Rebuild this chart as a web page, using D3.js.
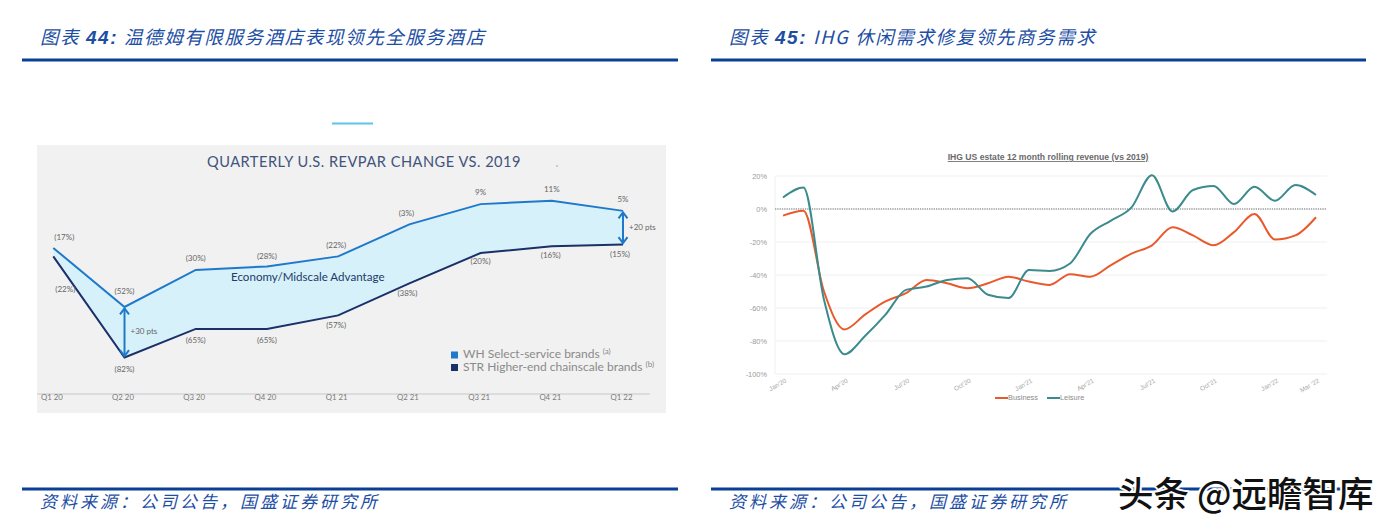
<!DOCTYPE html>
<html><head><meta charset="utf-8">
<script src="https://cdn.jsdelivr.net/npm/d3@7"></script>
<style>
html,body{margin:0;padding:0;background:#fff;}
svg{display:block;}
</style></head>
<body>
<svg id="c" width="1388" height="531"></svg>
<script>
// ---------- Data: left chart ----------
const quarters = ["Q1 20","Q2 20","Q3 20","Q4 20","Q1 21","Q2 21","Q3 21","Q4 21","Q1 22"];
const whValues = [-17,-52,-30,-28,-22,-3,9,11,5];
const strValues = [-22,-82,-65,-65,-57,-38,-20,-16,-15];
const seriesNamesLeft = ["WH Select-service brands","STR Higher-end chainscale brands"];
const seriesNotesLeft = ["(a)","(b)"];
const gapNotes = [{q:"Q2 20", text:"+30 pts"},{q:"Q1 22", text:"+20 pts"}];

// ---------- Data: right chart ----------
const months = ["Jan'20","Feb'20","Mar'20","Apr'20","May'20","Jun'20","Jul'20","Aug'20","Sep'20","Oct'20","Nov'20","Dec'20",
  "Jan'21","Feb'21","Mar'21","Apr'21","May'21","Jun'21","Jul'21","Aug'21","Sep'21","Oct'21","Nov'21","Dec'21",
  "Jan'22","Feb'22","Mar'22"];
const business = [-4,-1,-50,-73,-64,-56,-51,-43,-45,-48,-45,-41,-44,-46,-39.5,-41,-34,-27,-22,-11,-16,-22,-14,-3,-18.5,-16,-5];
const leisure  = [7,13,-55,-88,-77,-64,-49,-47,-43,-42,-52,-54,-37,-37.5,-33,-15,-7,1,20.5,-1.5,11.5,14,3,13.5,5,14.5,8.5];
const yTicksRight = [20,0,-20,-40,-60,-80,-100];
const xTickMonths = [0,3,6,9,12,15,18,21,24,26];
const xTickLabels = ["Jan'20","Apr'20","Jul'20","Oct'20","Jan'21","Apr'21","Jul'21","Oct'21","Jan'22","Mar '22"];
const seriesNamesRight = ["Business","Leisure"];

// ---------- Texts ----------
const titleLeft = ["图表 ","44:"," 温德姆有限服务酒店表现领先全服务酒店"];
const titleRight = ["图表 ","45:"," IHG 休闲需求修复领先商务需求"];
const sourceText = "资料来源：公司公告，国盛证券研究所";
const watermark = "头条 @远瞻智库";

const svg = d3.select("#c");
const cjk = "'Noto Sans CJK SC','Noto Sans',sans-serif";
const blue = "#1c4ea3";
const rule = "#0b3f96";

// ---------- Frame: titles, rules, sources ----------
function frame(x0, x1, title) {
  const t = svg.append("text").attr("x", x0 + 18).attr("y", 44)
    .attr("font-family", cjk).attr("font-size", 18.5).attr("font-style", "italic")
    .attr("fill", blue).attr("letter-spacing", 1.6);
  t.append("tspan").text(title[0]);
  t.append("tspan").attr("font-family","'Liberation Sans',Arial,sans-serif").attr("font-weight","bold").attr("font-size",19).text(title[1]);
  t.append("tspan").text(title[2]);
  svg.append("rect").attr("x", x0).attr("y", 58.5).attr("width", x1 - x0).attr("height", 3).attr("fill", rule);
  svg.append("rect").attr("x", x0).attr("y", 487.5).attr("width", x1 - x0).attr("height", 3).attr("fill", rule);
  svg.append("text").attr("x", x0 + 18).attr("y", 508)
    .attr("font-family", cjk).attr("font-size", 17).attr("font-style", "italic")
    .attr("letter-spacing", 3.0).attr("fill", blue).text(sourceText);
}
frame(22, 678, titleLeft);
frame(711, 1366, titleRight);

// ---------- Left chart ----------
const L = svg.append("g");
const lf = "Lato,'Open Sans',sans-serif";
L.append("rect").attr("x", 332).attr("y", 122.5).attr("width", 41).attr("height", 2).attr("fill", "#5cc3ea");
L.append("rect").attr("x", 37).attr("y", 145).attr("width", 629).attr("height", 268).attr("fill", "#f1f1f1");
L.append("text").attr("x", 364).attr("y", 167).attr("text-anchor", "middle")
  .attr("font-family", lf).attr("font-size", 14.6).attr("letter-spacing", 0.5)
  .attr("fill", "#42547c").text("QUARTERLY U.S. REVPAR CHANGE VS. 2019");
L.append("circle").attr("cx", 557).attr("cy", 166).attr("r", 0.8).attr("fill", "#999");

const xL = d3.scalePoint().domain(quarters).range([53.3, 623]);
const yL = d3.scaleLinear().domain([0, -100]).range([219.3, 387.9]);

// x axis
L.append("rect").attr("x", 37).attr("y", 393).attr("width", 613).attr("height", 2).attr("fill", "#dcdcdc");
const axL = L.append("g").attr("transform", "translate(0,394)")
  .call(d3.axisBottom(xL).tickSize(0).tickPadding(4));
axL.select(".domain").remove();
axL.selectAll("text").attr("font-family", lf).attr("font-size", 7.8).attr("fill", "#7a7a7a")
  .attr("dx", -2).attr("dy", "0.25em");

// band between series
const band = quarters.map((q, i) => ({q, hi: whValues[i], lo: strValues[i]}));
L.append("path").datum(band)
  .attr("d", d3.area().x(d => xL(d.q)).y0(d => yL(d.lo)).y1(d => yL(d.hi)))
  .attr("fill", "#d6f1fa");
const lineL = d3.line().x(d => xL(d.q)).y(d => yL(d.v));
L.append("path").datum(quarters.map((q, i) => ({q, v: strValues[i]})))
  .attr("d", lineL).attr("fill", "none").attr("stroke", "#1b2f68").attr("stroke-width", 2);
L.append("path").datum(quarters.map((q, i) => ({q, v: whValues[i]})))
  .attr("d", lineL).attr("fill", "none").attr("stroke", "#1f79cb").attr("stroke-width", 2);

const pct = v => v < 0 ? `(${Math.abs(v)}%)` : `${v}%`;
// labels
const whOff = [[11,-10],[0,-15],[0,-11],[0,-10],[-2,-10],[-3,-10],[0,-11],[0,-11],[0,-11]];
const strOff = [[12,34],[0,12],[0,12],[0,12],[-2,11],[-2,11],[0,9],[-1,10],[-3,10]];
quarters.forEach((q, i) => {
  L.append("text").attr("x", xL(q) + whOff[i][0]).attr("y", yL(whValues[i]) + whOff[i][1])
    .attr("text-anchor", "middle").attr("dominant-baseline", "middle")
    .attr("font-family", lf).attr("font-size", 8).attr("fill", "#666").text(pct(whValues[i]));
  L.append("text").attr("x", xL(q) + strOff[i][0]).attr("y", yL(strValues[i]) + strOff[i][1])
    .attr("text-anchor", "middle").attr("dominant-baseline", "middle")
    .attr("font-family", lf).attr("font-size", 8).attr("fill", "#666").text(pct(strValues[i]));
});

// gap arrows
gapNotes.forEach(g => {
  const i = quarters.indexOf(g.q);
  const x = xL(g.q), y1 = yL(whValues[i]) + 1.5, y2 = yL(strValues[i]) - 1.5;
  const c = "#1f79cb";
  L.append("line").attr("x1", x).attr("x2", x).attr("y1", y1).attr("y2", y2)
    .attr("stroke", c).attr("stroke-width", 2);
  L.append("path").attr("d", `M${x-4.5},${y1+6}L${x},${y1}L${x+4.5},${y1+6}`)
    .attr("fill", "none").attr("stroke", c).attr("stroke-width", 2);
  L.append("path").attr("d", `M${x-4.5},${y2-6}L${x},${y2}L${x+4.5},${y2-6}`)
    .attr("fill", "none").attr("stroke", c).attr("stroke-width", 2);
  L.append("text").attr("x", x + 6).attr("y", (y1 + y2) / 2).attr("dominant-baseline", "middle")
    .attr("font-family", lf).attr("font-size", 8).attr("fill", "#666").text(g.text);
});

L.append("text").attr("x", 231).attr("y", 281)
  .attr("font-family", lf).attr("font-size", 11.6).attr("fill", "#223a68")
  .text("Economy/Midscale Advantage");

// legend
const legCols = ["#1f79cb", "#1b2f68"];
seriesNamesLeft.forEach((n, i) => {
  const y = 355 + i * 12.5;
  L.append("rect").attr("x", 451).attr("y", y - 3.5).attr("width", 7).attr("height", 7).attr("fill", legCols[i]);
  const t = L.append("text").attr("x", 463).attr("y", y).attr("dominant-baseline", "middle")
    .attr("font-family", lf).attr("font-size", 12).attr("fill", "#8a8a8a");
  t.append("tspan").text(n + " ");
  t.append("tspan").attr("font-size", 8).attr("dy", -3).text(seriesNotesLeft[i]);
});

// ---------- Right chart ----------
const R = svg.append("g");
const af = "'Liberation Sans',Arial,sans-serif";
const xR = d3.scaleLinear().domain([0, months.length - 1]).range([783, 1316]);
const yR = d3.scaleLinear().domain([-100, 20]).range([374, 176]);

R.append("text").attr("x", 1048).attr("y", 160).attr("text-anchor", "middle")
  .attr("font-family", af).attr("font-weight", "bold").attr("font-size", 8.6)
  .attr("fill", "#6a6a6a").attr("text-decoration", "underline")
  .text("IHG US estate 12 month rolling revenue (vs 2019)");

// grid
yTicksRight.forEach(v => {
  if (v === 0) return;
  R.append("line").attr("x1", 775).attr("x2", 1327).attr("y1", yR(v)).attr("y2", yR(v))
    .attr("stroke", "#efefef").attr("stroke-width", 1.2);
});
R.append("line").attr("x1", 775).attr("x2", 775).attr("y1", yR(20)).attr("y2", yR(-100))
  .attr("stroke", "#f0f0f0").attr("stroke-width", 1);
R.append("line").attr("x1", 775).attr("x2", 1327).attr("y1", yR(0)).attr("y2", yR(0))
  .attr("stroke", "#9a9a9a").attr("stroke-width", 1.3).attr("stroke-dasharray", "1.3,1");

const ayR = R.append("g").attr("transform", "translate(775,0)")
  .call(d3.axisLeft(yR).tickValues(yTicksRight).tickFormat(d => d + "%").tickSize(0).tickPadding(8));
ayR.select(".domain").remove();
ayR.selectAll("text").attr("font-family", af).attr("font-size", 7.4).attr("fill", "#9a9a9a");

xTickMonths.forEach((m, i) => {
  R.append("text").attr("transform", `translate(${xR(m) + 4},${382}) rotate(-30)`)
    .attr("text-anchor", "end").attr("font-family", af).attr("font-size", 6.5)
    .attr("fill", "#a8a8a8").text(xTickLabels[i]);
});

const lineR = d3.line().x((d, i) => xR(i)).y(d => yR(d)).curve(d3.curveMonotoneX);
const rCols = ["#e85a2c", "#3b8b8e"];
R.append("path").datum(business).attr("d", lineR).attr("fill", "none")
  .attr("stroke", rCols[0]).attr("stroke-width", 2);
R.append("path").datum(leisure).attr("d", lineR).attr("fill", "none")
  .attr("stroke", rCols[1]).attr("stroke-width", 2);

// legend right
const legX = [995, 1047];
seriesNamesRight.forEach((n, i) => {
  R.append("line").attr("x1", legX[i]).attr("x2", legX[i] + 13).attr("y1", 398).attr("y2", 398)
    .attr("stroke", rCols[i]).attr("stroke-width", 2);
  R.append("text").attr("x", legX[i] + 13).attr("y", 398).attr("dominant-baseline", "middle")
    .attr("font-family", af).attr("font-size", 7.4).attr("fill", "#8a8a8a").text(n);
});

// ---------- Watermark ----------
svg.append("text").attr("x", 1118).attr("y", 507)
  .attr("font-family", cjk).attr("font-size", 35.5).attr("font-weight", 500)
  .attr("fill", "#111").attr("stroke", "#fff").attr("stroke-width", 4)
  .attr("paint-order", "stroke").attr("stroke-linejoin", "round")
  .text(watermark);
</script>
</body></html>
